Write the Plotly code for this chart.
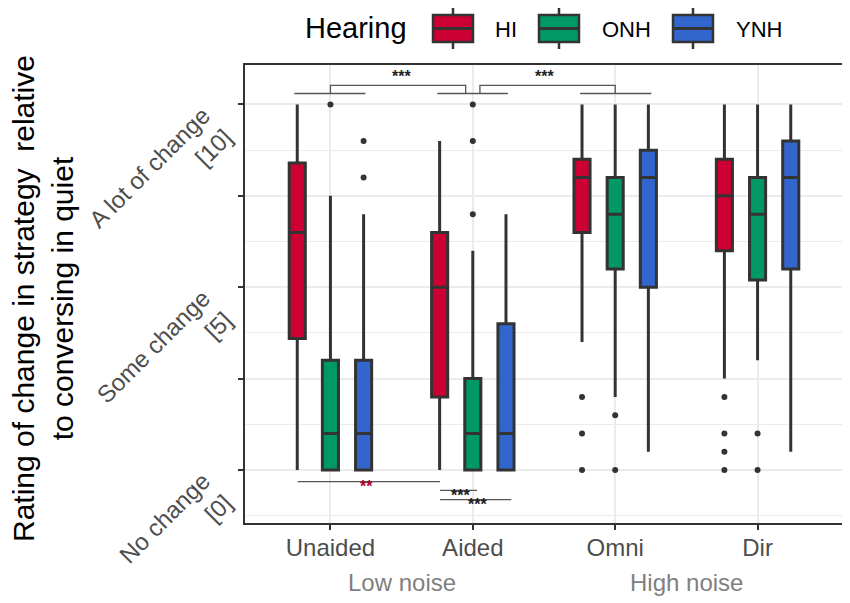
import plotly.graph_objects as go

# ---------------- data ----------------
conditions = ["Unaided", "Aided", "Omni", "Dir"]
noise_groups = ["Low noise", "High noise"]
groups = ["HI", "ONH", "YNH"]
colors = {"HI": "#CC0033", "ONH": "#009966", "YNH": "#3366CC"}

q1 = {"HI": [3.6, 2.0, 6.5, 6.0], "ONH": [0, 0, 5.5, 5.2], "YNH": [0, 0, 5.0, 5.5]}
median = {"HI": [6.5, 5.0, 8.0, 7.5], "ONH": [1.0, 1.0, 7.0, 7.0], "YNH": [1.0, 1.0, 8.0, 8.0]}
q3 = {"HI": [8.4, 6.5, 8.5, 8.5], "ONH": [3.0, 2.5, 8.0, 8.0], "YNH": [3.0, 4.0, 8.75, 9.0]}
lower = {"HI": [0, 0, 3.5, 2.5], "ONH": [0, 0, 2.0, 3.0], "YNH": [0, 0, 0.5, 0.5]}
upper = {"HI": [10, 9.0, 10, 10], "ONH": [7.5, 6.0, 10, 10], "YNH": [7.0, 7.0, 10, 10]}

# outliers: (condition index, value)
outliers = {
    "HI": [(2, 2.0), (2, 1.0), (2, 0), (3, 2.0), (3, 1.0), (3, 0.5), (3, 0)],
    "ONH": [(0, 10), (1, 10), (1, 9.0), (1, 7.0), (2, 1.5), (2, 0), (3, 1.0), (3, 0)],
    "YNH": [(0, 9.0), (0, 8.0)],
}

y_tickvals = [0, 2.5, 5, 7.5, 10]
y_ticktext = ["No change<br>[0]", "", "Some change<br>[5]", "", "A lot of change<br>[10]"]

dodge = {"HI": -0.233, "ONH": 0.0, "YNH": 0.233}
FONT = "Liberation Sans, Arial, sans-serif"

# plot-area geometry in window pixels (page body has an 8px margin)
PL, PR, PT, PB = 245, 843, 65, 523
W, H = 850, 603
def px(xp):
    return (xp - PL) / (PR - PL)
def py(yp):
    return (PB - yp) / (PB - PT)

fig = go.Figure()
for g in groups:
    xs = [i + 1 + dodge[g] for i in range(len(conditions))]
    fig.add_trace(go.Box(
        name=g, x=xs, q1=q1[g], median=median[g], q3=q3[g],
        lowerfence=lower[g], upperfence=upper[g],
        width=0.113, whiskerwidth=0,
        fillcolor=colors[g], line=dict(color="#333333", width=3),
        boxpoints=False, showlegend=False, hoverinfo="skip",
    ))
for g in groups:
    fig.add_trace(go.Scatter(
        x=[c + 1 + dodge[g] for c, v in outliers[g]],
        y=[v for c, v in outliers[g]],
        mode="markers", marker=dict(color="#333333", size=6),
        showlegend=False, hoverinfo="skip",
    ))

# ---------------- significance brackets ----------------
lc = dict(color="#555555", width=1.3)
top_y, bracket_y = 10.30, 10.52
for x0, x1 in [(0.746, 1.246), (1.751, 2.246), (2.754, 3.254)]:
    fig.add_shape(type="line", x0=x0, x1=x1, y0=top_y, y1=top_y, line=lc)
for x0, x1 in [(1.0, 1.95), (2.05, 3.0)]:
    fig.add_shape(type="path",
                  path=f"M {x0},{top_y} L {x0},{bracket_y} L {x1},{bracket_y} L {x1},{top_y}",
                  line=lc)
for xt in [1.5, 2.5]:
    fig.add_annotation(x=xt, y=10.76, text="<b>***</b>", showarrow=False,
                       font=dict(size=16, color="#222222", family=FONT))

fig.add_shape(type="line", x0=0.77, x1=1.77, y0=-0.32, y1=-0.32, line=lc)
fig.add_annotation(x=1.25, y=-0.46, text="<b>**</b>", showarrow=False,
                   font=dict(size=16, color="#B0002A", family=FONT))
fig.add_shape(type="line", x0=1.77, x1=2.03, y0=-0.56, y1=-0.56, line=lc)
fig.add_annotation(x=1.91, y=-0.70, text="<b>***</b>", showarrow=False,
                   font=dict(size=16, color="#222222", family=FONT))
fig.add_shape(type="line", x0=1.77, x1=2.27, y0=-0.81, y1=-0.81, line=lc)
fig.add_annotation(x=2.03, y=-0.95, text="<b>***</b>", showarrow=False,
                   font=dict(size=16, color="#222222", family=FONT))

# group labels under x axis
for xt, txt in zip([1.5, 3.5], noise_groups):
    fig.add_annotation(x=xt, xref="x", y=py(582), yref="paper", yanchor="middle",
                       text=txt, showarrow=False,
                       font=dict(size=24, color="#808080", family=FONT))

# y title
fig.add_annotation(x=px(43), xref="paper", y=py(299), yref="paper",
                   text="Rating of change in strategy  relative<br>to conversing in quiet",
                   textangle=-90, showarrow=False, xanchor="center", yanchor="middle",
                   font=dict(size=30, color="#000000", family=FONT))

# ---------------- custom legend (ggplot style box keys) ----------------
fig.add_annotation(x=px(303), xref="paper", y=py(28), yref="paper", xanchor="left",
                   yanchor="middle", text="Hearing", showarrow=False,
                   font=dict(size=29, color="#000000", family=FONT))
key_left = {"HI": 433, "ONH": 539, "YNH": 673}
label_left = {"HI": 493, "ONH": 600, "YNH": 734}
kw, ky0, ky1, kmid = 40, 15, 42, 28.5
for g in groups:
    x0 = key_left[g]
    xc = x0 + kw / 2
    kl = dict(color="#333333", width=2.5)
    fig.add_shape(type="line", xref="paper", yref="paper", x0=px(xc), x1=px(xc),
                  y0=py(8), y1=py(ky0), line=kl)
    fig.add_shape(type="line", xref="paper", yref="paper", x0=px(xc), x1=px(xc),
                  y0=py(ky1), y1=py(49), line=kl)
    fig.add_shape(type="rect", xref="paper", yref="paper", x0=px(x0), x1=px(x0 + kw),
                  y0=py(ky1), y1=py(ky0), fillcolor=colors[g], line=kl)
    fig.add_shape(type="line", xref="paper", yref="paper", x0=px(x0), x1=px(x0 + kw),
                  y0=py(kmid), y1=py(kmid), line=dict(color="#333333", width=3))
    fig.add_annotation(x=px(label_left[g]), xref="paper", y=py(29), yref="paper",
                       xanchor="left", yanchor="middle", text=g, showarrow=False,
                       font=dict(size=22, color="#000000", family=FONT))

fig.update_layout(
    width=W, height=H,
    margin=dict(l=PL - 8, r=W + 8 - PR, t=PT - 8, b=H + 8 - PB, autoexpand=False),
    paper_bgcolor="white", plot_bgcolor="white",
    font=dict(family=FONT),
    boxmode="overlay",
    showlegend=False,
    xaxis=dict(range=[0.4, 4.6], tickmode="array", tickvals=[1, 2, 3, 4], ticktext=conditions,
               showgrid=True, gridcolor="#EBEBEB", gridwidth=1.5, zeroline=False,
               ticks="outside", ticklen=5, tickcolor="#333333", tickwidth=1.5,
               showline=True, linecolor="#333333", linewidth=2, mirror=True,
               ticklabelstandoff=-3,
               tickfont=dict(size=24, color="#4D4D4D")),
    yaxis=dict(range=[-1.45, 11.08], tickmode="array", tickvals=y_tickvals, ticktext=y_ticktext,
               tickangle=-45, showgrid=True, gridcolor="#EBEBEB", gridwidth=1.5, zeroline=False,
               minor=dict(tickmode="linear", tick0=0, dtick=1.25, showgrid=True,
                          gridcolor="#EBEBEB", gridwidth=1, ticks=""),
               ticks="outside", ticklen=5, tickcolor="#333333", tickwidth=1.5,
               showline=True, linecolor="#333333", linewidth=2, mirror=True,
               ticklabelshift=30, ticklabelstandoff=8,
               tickfont=dict(size=24, color="#4D4D4D")),
)

fig.write_html("out.html")
